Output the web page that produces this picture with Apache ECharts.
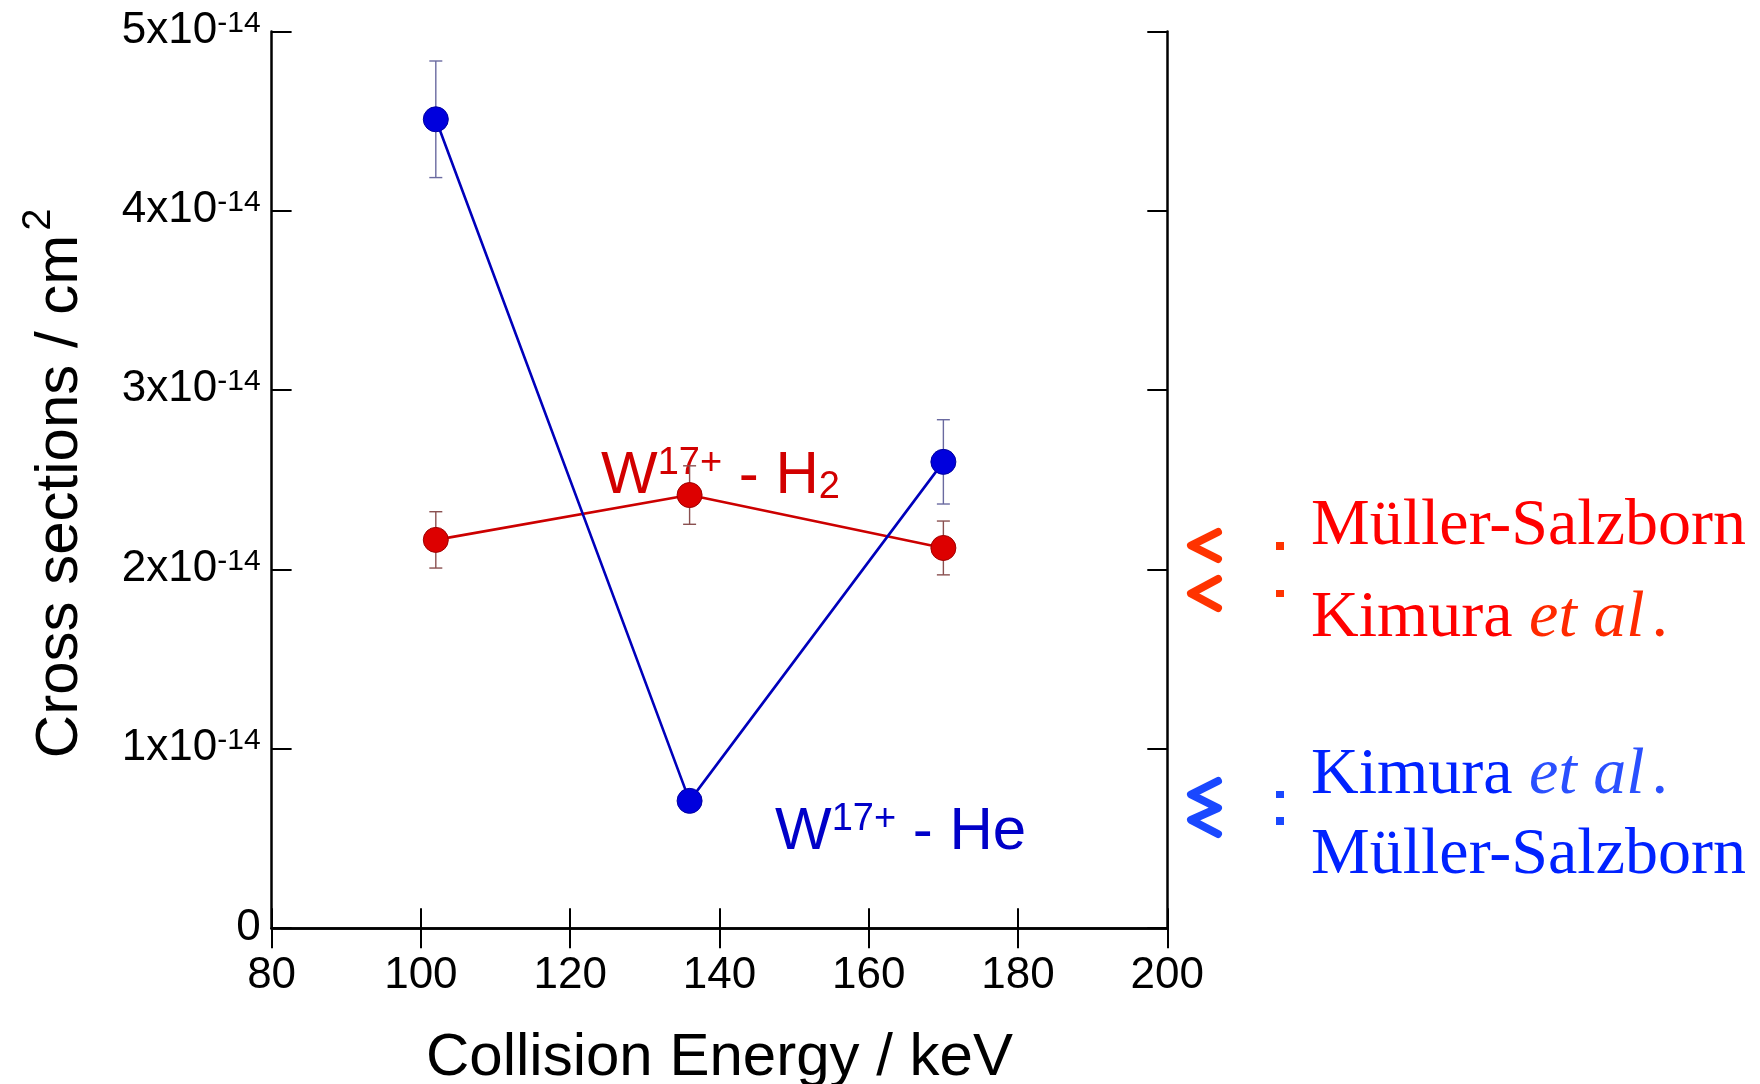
<!DOCTYPE html>
<html><head><meta charset="utf-8">
<script src="https://cdn.jsdelivr.net/npm/echarts@6/dist/echarts.min.js"></script>
<style>html,body{margin:0;padding:0;background:#fff}#c{width:1760px;height:1084px}</style>
</head><body><div id="c"></div>
<script>
// Collision energies (keV)
const energies = [102, 136, 170];
// W17+ - He cross sections (units of 1e-14 cm^2) and error bars
const heValues = [4.51, 0.71, 2.60];
const heErrors = [0.325, 0, 0.235];
// W17+ - H2 cross sections (units of 1e-14 cm^2) and error bars
const h2Values = [2.165, 2.415, 2.12];
const h2Errors = [0.157, 0.163, 0.15];
// axis ranges / ticks
const xMin = 80, xMax = 200, xStep = 20;
const yMin = 0, yMax = 5, yStep = 1;
const yExponent = '-14';

const SANS = "'Liberation Sans', Arial, Helvetica, sans-serif";
const SERIF = "'Liberation Serif', 'Times New Roman', serif";

const chart = echarts.init(document.getElementById('c'), null, {renderer: 'canvas'});

function errSeries(vals, errs, color) {
  return {
    type: 'custom',
    silent: true,
    z: 1,
    encode: {x: 0, y: 1},
    renderItem: function (params, api) {
      const x = api.value(0), y = api.value(1), e = api.value(2);
      if (!e) return null;
      const t = api.coord([x, y + e]);
      const b = api.coord([x, y - e]);
      const hw = 6.5;
      const st = {stroke: color, lineWidth: 1.4};
      return {type: 'group', children: [
        {type: 'line', shape: {x1: t[0], y1: t[1], x2: b[0], y2: b[1]}, style: st},
        {type: 'line', shape: {x1: t[0] - hw, y1: t[1], x2: t[0] + hw, y2: t[1]}, style: st},
        {type: 'line', shape: {x1: b[0] - hw, y1: b[1], x2: b[0] + hw, y2: b[1]}, style: st}
      ]};
    },
    data: energies.map((x, i) => [x, vals[i], errs[i]])
  };
}

function lineSeries(vals, lineColor, fill, border) {
  return {
    type: 'line',
    z: 3,
    symbol: 'circle',
    symbolSize: 25,
    lineStyle: {color: lineColor, width: 2.6},
    itemStyle: {color: fill, borderColor: border, borderWidth: 1},
    data: energies.map((x, i) => [x, vals[i]])
  };
}

const axisLine = {show: true, lineStyle: {color: '#000', width: 2.5}};
const axisTick = {show: true, inside: true, length: 20, lineStyle: {color: '#000', width: 2}};

function ann(x, y, color, tail, tailSub) {
  const rich = {
    w: {fontSize: 60, fontFamily: SANS, lineHeight: 62, verticalAlign: 'middle', fill: color},
    p: {fontSize: 38, fontFamily: SANS, lineHeight: 22, verticalAlign: 'top', fill: color},
    b: {fontSize: 38, fontFamily: SANS, lineHeight: 20, verticalAlign: 'bottom', fill: color}
  };
  return {
    type: 'text', x: x, y: y, silent: true,
    style: {
      text: '{w|W}{p|17+}{w|' + tail + '}' + (tailSub ? '{b|' + tailSub + '}' : ''),
      rich: rich, textAlign: 'left', textVerticalAlign: 'middle', fill: color,
      font: '60px ' + SANS
    }
  };
}

function legendText(x, y, parts) {
  const rich = {
    r: {fontSize: 66, fontFamily: SERIF, fill: parts.color},
    d: {fontSize: 66, fontFamily: SERIF, fill: parts.italic, padding: [0, 0, 0, 7]},
    i: {fontSize: 66, fontFamily: SERIF, fontStyle: 'italic', fill: parts.italic}
  };
  return {
    type: 'text', x: x, y: y, silent: true,
    style: {text: parts.text, rich: rich, textAlign: 'left', textVerticalAlign: 'middle',
      font: '66px ' + SERIF, fill: parts.color}
  };
}

function chevron(pts, color) {
  return {type: 'polyline', silent: true, shape: {points: pts},
    style: {stroke: color, lineWidth: 8, lineCap: 'round', lineJoin: 'round', fill: null}};
}
function dot(x, y, w, h, color) {
  return {type: 'rect', silent: true, shape: {x: x, y: y, width: w, height: h}, style: {fill: color}};
}

const RED_T = '#ff0000', RED_I = '#ff2a00', RED_C = '#ff3300';
const BLUE_T = '#0022ff', BLUE_I = '#2a50ff', BLUE_C = '#1a48ff';

const option = {
  animation: false,
  backgroundColor: '#fff',
  grid: {left: 271.6, right: 592.7, top: 31.4, bottom: 155.8, containLabel: false, outerBoundsMode: 'none'},
  xAxis: [
    {type: 'value', min: xMin, max: xMax, interval: xStep, position: 'bottom',
      axisLine: axisLine, axisTick: axisTick, splitLine: {show: false},
      axisLabel: {show: true, margin: 26, fontSize: 44, fontFamily: SANS, color: '#000'},
      name: 'Collision Energy / keV', nameLocation: 'middle', nameGap: 100,
      nameTextStyle: {fontSize: 60, fontFamily: SANS, color: '#000'}},
    {type: 'value', min: xMin, max: xMax, interval: xStep, position: 'top',
      axisLine: axisLine, axisTick: axisTick, splitLine: {show: false},
      axisLabel: {show: false}}
  ],
  yAxis: [
    {type: 'value', min: yMin, max: yMax, interval: yStep, position: 'left',
      axisLine: axisLine, axisTick: axisTick, splitLine: {show: false},
      axisLabel: {show: true, margin: 11, fontSize: 44, fontFamily: SANS, color: '#000',
        formatter: function (v) { return v === 0 ? '0' : '{m|' + v + 'x10}{s|' + yExponent + '}'; },
        rich: {
          m: {fontSize: 44, fontFamily: SANS, color: '#000', lineHeight: 46, verticalAlign: 'top'},
          s: {fontSize: 30, fontFamily: SANS, color: '#000', lineHeight: 16, verticalAlign: 'top'}
        }},
      name: '{m|Cross sections / cm}{s|2}', nameLocation: 'middle', nameGap: 180, nameRotate: 90,
      nameTextStyle: {fontSize: 60, fontFamily: SANS, color: '#000', padding: [0, 7, 0, 0],
        rich: {
          m: {fontSize: 60, fontFamily: SANS, color: '#000', lineHeight: 62},
          s: {fontSize: 40, fontFamily: SANS, color: '#000', lineHeight: 18, padding: [0, 0, 44, 4]}
        }}},
    {type: 'value', min: yMin, max: yMax, interval: yStep, position: 'right',
      axisLine: axisLine, axisTick: axisTick, splitLine: {show: false},
      axisLabel: {show: false}}
  ],
  series: [
    errSeries(h2Values, h2Errors, '#8a5050'),
    errSeries(heValues, heErrors, '#6a6aa0'),
    lineSeries(h2Values, '#cc0000', '#dd0000', '#a00000'),
    lineSeries(heValues, '#0000bb', '#0000dd', '#0000a0')
  ],
  graphic: [
    ann(601, 476, '#d20000', ' - H', '2'),
    ann(775, 832, '#0000c8', ' - He', null),
    chevron([[1218, 532], [1191, 545.5], [1218, 559]], RED_C),
    chevron([[1218, 579], [1191, 593.5], [1218, 608]], RED_C),
    chevron([[1218, 781], [1191, 794.5], [1218, 808], [1191, 820], [1218, 834]], BLUE_C),
    dot(1276, 542, 8, 8, RED_C),
    dot(1276, 590, 8, 7, RED_C),
    dot(1276, 791, 8, 7, BLUE_C),
    dot(1276, 817, 8, 8, BLUE_C),
    legendText(1311, 527, {text: '{r|Müller-Salzborn}', color: RED_T, italic: RED_I}),
    legendText(1311, 619, {text: '{r|Kimura }{i|et al}{d|.}', color: RED_T, italic: RED_I}),
    legendText(1311, 776, {text: '{r|Kimura }{i|et al}{d|.}', color: BLUE_T, italic: BLUE_I}),
    legendText(1311, 856, {text: '{r|Müller-Salzborn}', color: BLUE_T, italic: BLUE_I})
  ]
};
chart.setOption(option);
</script>
</body></html>
